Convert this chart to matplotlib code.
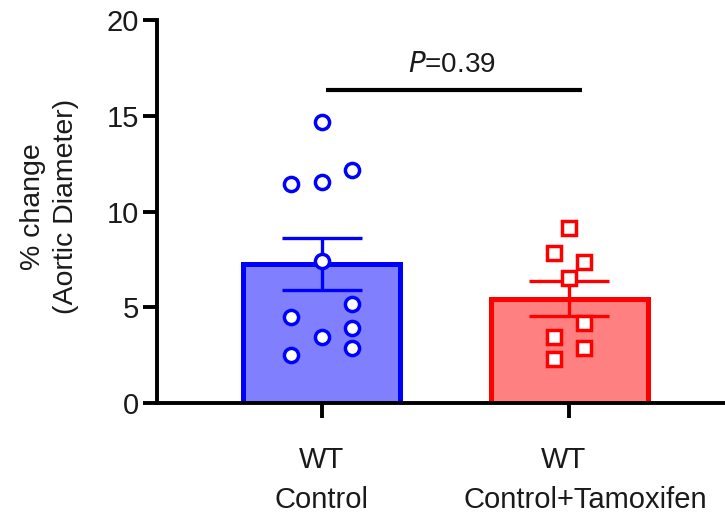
import matplotlib
matplotlib.use("Agg")
import matplotlib.pyplot as plt
import matplotlib.transforms as mtrans
import numpy as np

plt.rcParams['font.family'] = ['Liberation Sans', 'DejaVu Sans']

# groups (two-line tick labels)
label_top = ["WT", "WT"]
label_bottom = ["Control", "Control+Tamoxifen"]

# individual animals, % change in aortic diameter
control = [14.69, 11.42, 11.56, 12.17, 7.40, 5.17, 4.51, 3.46, 3.93, 2.86, 2.51]
tamox = [9.12, 7.85, 7.38, 6.51, 4.16, 3.46, 2.86, 2.30]

# bar height and error bar (mean +/- SEM)
means = [7.25, 5.45]
sems = [1.35, 0.92]

p_text = "=0.39"

# horizontal jitter of the dots (layout only)
jit_control = [0, -1, 0, 1, 0, 1, -1, 0, 1, 1, -1]
jit_tamox = [0, -1, 1, 0, 1, -1, 1, -1]
# small sideways shift of the label lines, as in the original
shift_top = [0, -0.023]
shift_bottom = [0, 0.065]

edge_cols = ["#0000FF", "#FF0000"]
fill_cols = ["#8080FF", "#FF8080"]
txt_col = "#1a1a1a"

fig = plt.figure(figsize=(7.25, 5.16), dpi=100)
ax = fig.add_axes([0.2166, 0.219, 0.7834, 0.742])

x = np.arange(len(label_top))
ax.bar(x, means, width=0.635, color=fill_cols, edgecolor=edge_cols,
       linewidth=3.6, zorder=1)
for i in range(len(x)):
    ax.errorbar(x[i], means[i], yerr=sems[i], color=edge_cols[i], lw=2.4,
                capsize=29, capthick=2.4, zorder=2)

ax.plot(x[0] + 0.123 * np.array(jit_control), control, 'o', ms=10.2, mew=2.5,
        mfc='white', mec=edge_cols[0], ls='none', zorder=3, clip_on=False)
ax.plot(x[1] + 0.062 * np.array(jit_tamox), tamox, 's', ms=10.5, mew=2.5,
        mfc='white', mec=edge_cols[1], ls='none', zorder=3, clip_on=False)

# significance line
ax.plot([0.017, 1.054], [16.34, 16.34], color='black', lw=3, solid_capstyle='butt',
        clip_on=False)
ax.text(0.525, 17.3, r"$\it{P}$" + p_text, ha='center', va='baseline',
        fontsize=20, color=txt_col)

ax.set_xlim(-0.665, 1.63)
ax.set_ylim(0, 20)
ax.set_yticks([0, 5, 10, 15, 20])
ax.set_xticks(x)
ax.set_xticklabels([])
ax.tick_params(axis='y', labelsize=21, labelcolor=txt_col, length=10, width=2.8, pad=3)
ax.tick_params(axis='x', length=11, width=2.8)

# x labels, two lines each
tr = mtrans.blended_transform_factory(ax.transData, ax.transAxes)
for i in range(len(x)):
    ax.text(x[i] + shift_top[i], -0.1697, label_top[i], transform=tr,
            ha='center', va='baseline', fontsize=21, color=txt_col)
    ax.text(x[i] + shift_bottom[i], -0.274, label_bottom[i], transform=tr,
            ha='center', va='baseline', fontsize=21, color=txt_col)

for s in ['top', 'right']:
    ax.spines[s].set_visible(False)
for s in ['left', 'bottom']:
    ax.spines[s].set_linewidth(2.8)

ax.set_ylabel("% change\n(Aortic Diameter)", fontsize=20.5, color=txt_col,
              linespacing=1.35)
ax.yaxis.set_label_coords(-0.137, 0.513)

fig.savefig("out.png", dpi=100)
